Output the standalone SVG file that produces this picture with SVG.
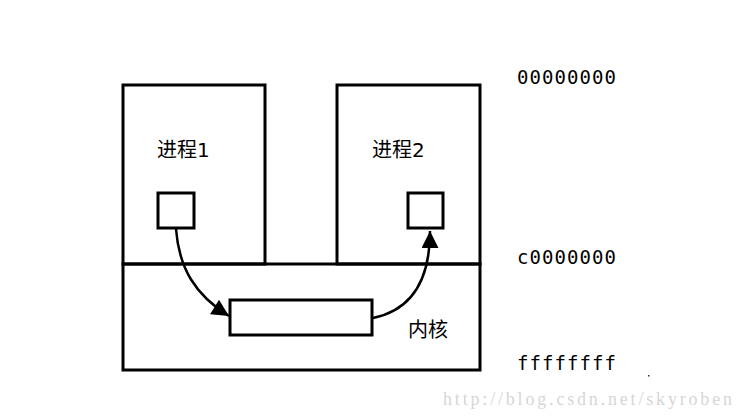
<svg xmlns="http://www.w3.org/2000/svg" width="744" height="419" viewBox="0 0 744 419">
<style>
.box{fill:none;stroke:#000;stroke-width:3}
.conn{fill:none;stroke:#000;stroke-width:2.5}
.cjk{font-family:"DejaVu Sans","Noto Sans CJK SC",sans-serif;font-size:20px;fill:#000}
.addr{font-family:"DejaVu Sans Mono",monospace;font-size:19px;fill:#000}
.wm{font-family:"Liberation Serif",serif;font-size:18px;fill:#d6d6d6}
</style>
<defs>
<marker id="ah2" viewBox="0 0 10 10" refX="10" refY="5" markerWidth="20" markerHeight="17" markerUnits="userSpaceOnUse" orient="auto">
<path d="M0,0 L10,5 L0,10 z" fill="#000"/>
</marker>
</defs>
<rect width="744" height="419" fill="#fff"/>
<g id="process1">
<rect class="box" x="123" y="85" width="142" height="179"/>
<text class="cjk" x="157" y="157">进程1</text>
</g>
<g id="process2">
<rect class="box" x="337" y="85" width="143" height="179"/>
<text class="cjk" x="372" y="157">进程2</text>
</g>
<g id="kernel">
<rect class="box" x="123" y="264" width="357" height="106"/>
<text class="cjk" x="408" y="337">内核</text>
</g>
<g id="buf1">
<rect class="box" x="158" y="193" width="36" height="35"/>
</g>
<g id="buf2">
<rect class="box" x="408" y="193" width="35" height="35"/>
</g>
<g id="kbuf">
<rect class="box" x="230" y="300" width="142" height="35"/>
</g>
<g id="connectors">
<path class="conn" d="M176,229 C179,268 195,295 229,316" marker-end="url(#ah2)"/>
<path class="conn" d="M373,318 C412,310 430,280 430,231" marker-end="url(#ah2)"/>
</g>
<g id="addresses">
<text class="addr" x="517" y="84" textLength="99">00000000</text>
<text class="addr" x="517" y="264" textLength="99">c0000000</text>
<text class="addr" x="517" y="370" textLength="99">ffffffff</text>
</g>
<rect x="648" y="375" width="1.5" height="1.5" fill="#333"/>
<text class="wm" x="443" y="405" textLength="289" lengthAdjust="spacing">http://blog.csdn.net/skyroben</text>
</svg>
